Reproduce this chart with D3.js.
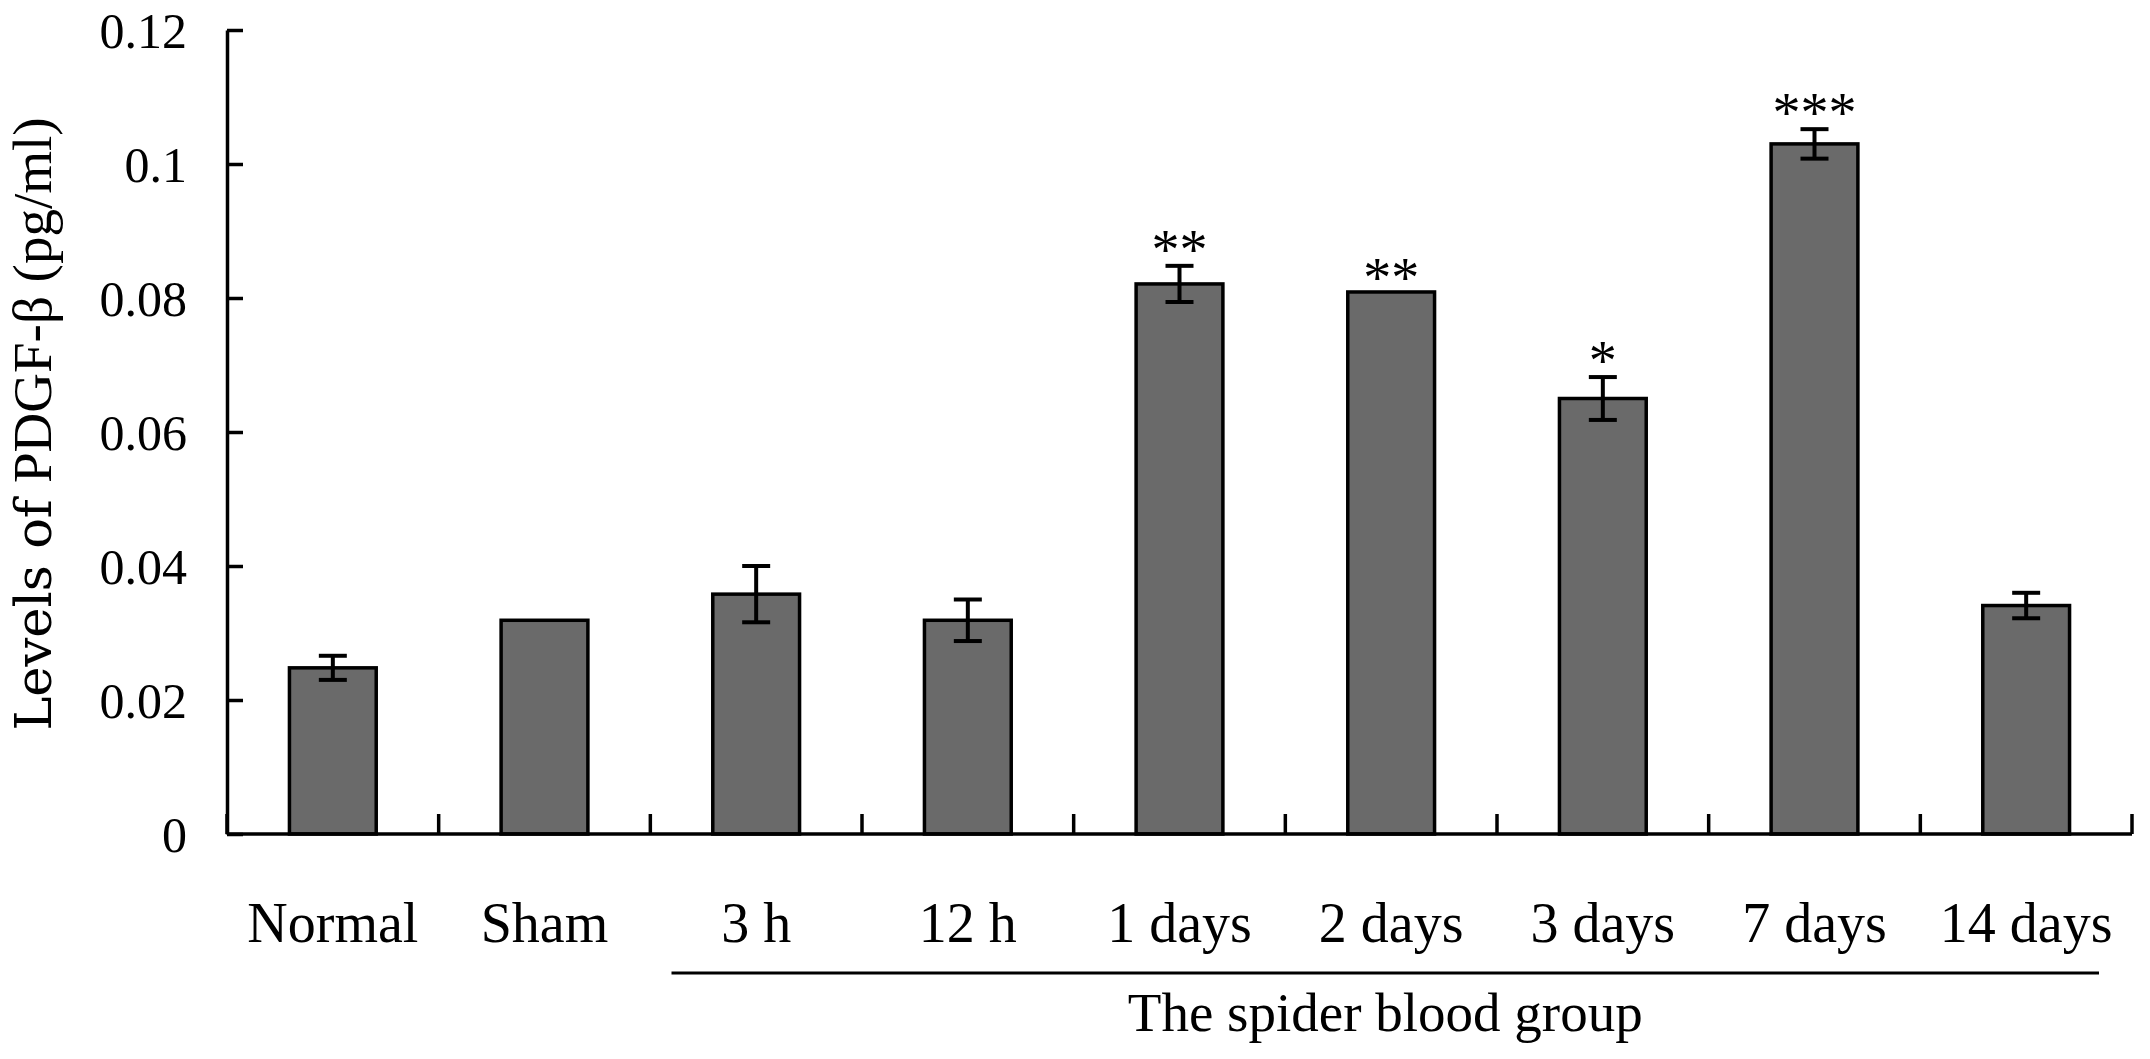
<!DOCTYPE html>
<html>
<head>
<meta charset="utf-8">
<script src="https://cdn.jsdelivr.net/npm/d3@7"></script>
<style>
  body { margin: 0; background: #fff; }
  svg text { font-family: "Liberation Serif", "Times New Roman", serif; fill: #000; }
</style>
</head>
<body>
<svg id="chart" width="2150" height="1059"></svg>
<script>
// data
var categories = ["Normal", "Sham", "3 h", "12 h", "1 days", "2 days", "3 days", "7 days", "14 days"];
var values = [0.0248, 0.0319, 0.0358, 0.0319, 0.0821, 0.0809, 0.0650, 0.1030, 0.0341];
var errors = [0.0018, 0, 0.0042, 0.0031, 0.0027, 0, 0.0032, 0.0022, 0.0019];
var stars = ["", "", "", "", "**", "**", "*", "***", ""];
var yTicks = [0, 0.02, 0.04, 0.06, 0.08, 0.1, 0.12];
var yTickLabels = ["0", "0.02", "0.04", "0.06", "0.08", "0.1", "0.12"];
var groupLabel = "The spider blood group";
var groupStart = "3 h";

var svg = d3.select("#chart");

var plotLeft = 227, plotRight = 2132, plotTop = 30, plotBottom = 834;

var x = d3.scaleBand().domain(categories).range([plotLeft, plotRight]).padding(0);
var y = d3.scaleLinear().domain([0, 0.12]).range([plotBottom, plotTop]);
var barW = x.bandwidth() * 0.41;

//bars
svg.append("g")
    .selectAll("rect")
    .data(values)
    .enter().append("rect")
    .attr("x", function(d, i) { return x(categories[i]) + x.bandwidth()/2 - barW/2; })
    .attr("y", function(d) { return y(d); })
    .attr("width", barW)
    .attr("height", function(d) { return y(0) - y(d); })
    .style("fill", "#6a6a6a")
    .style("stroke", "#000")
    .style("stroke-width", 3.5);

//error bars
var errG = svg.append("g").style("stroke", "#000").style("stroke-width", 4);
values.forEach(function(v, i) {
    if (!errors[i]) return;
    var cx = x(categories[i]) + x.bandwidth()/2;
    errG.append("line")
        .attr("x1", cx).attr("x2", cx)
        .attr("y1", y(v + errors[i])).attr("y2", y(v - errors[i]));
    [v + errors[i], v - errors[i]].forEach(function(e) {
        errG.append("line")
            .attr("x1", cx - 14).attr("x2", cx + 14)
            .attr("y1", y(e)).attr("y2", y(e));
    });
});

//significance stars
svg.append("g")
    .selectAll("text")
    .data(values)
    .enter().append("text")
    .attr("x", function(d, i) { return x(categories[i]) + x.bandwidth()/2; })
    .attr("y", function(d, i) { return y(d + errors[i]) + (errors[i] ? 3 : 5); })
    .attr("text-anchor", "middle")
    .style("font-size", "56px")
    .text(function(d, i) { return stars[i]; });

//y axis, ticks pointing inward
var yAxis = d3.axisLeft(y)
    .tickValues(yTicks)
    .tickFormat(function(d, i) { return yTickLabels[i]; })
    .tickSizeInner(-16)
    .tickSizeOuter(0)
    .tickPadding(40);

var yG = svg.append("g")
    .attr("transform", "translate(" + plotLeft + ",0)")
    .call(yAxis);
yG.select(".domain").style("stroke", "#000").style("stroke-width", 3.5);
yG.selectAll(".tick line").style("stroke", "#000").style("stroke-width", 3.5);
yG.selectAll(".tick text")
    .style("font-family", '"Liberation Serif", serif')
    .style("font-size", "50px")
    .attr("dy", "0.34em");

//x axis line and category separators
svg.append("line")
    .attr("x1", plotLeft).attr("x2", plotRight)
    .attr("y1", plotBottom).attr("y2", plotBottom)
    .style("stroke", "#000").style("stroke-width", 3.5);

var seps = categories.map(function(c) { return x(c); }).concat([plotRight]);
svg.append("g")
    .selectAll("line")
    .data(seps)
    .enter().append("line")
    .attr("x1", function(d) { return d; }).attr("x2", function(d) { return d; })
    .attr("y1", plotBottom).attr("y2", plotBottom - 20)
    .style("stroke", "#000").style("stroke-width", 3.5);

//category labels
svg.append("g")
    .selectAll("text")
    .data(categories)
    .enter().append("text")
    .attr("x", function(d) { return x(d) + x.bandwidth()/2; })
    .attr("y", 942)
    .attr("text-anchor", "middle")
    .style("font-size", "56px")
    .text(function(d) { return d; });

//group bracket
var gx1 = x(groupStart) + x.bandwidth()*0.1, gx2 = plotRight - 33;
svg.append("line")
    .attr("x1", gx1).attr("x2", gx2)
    .attr("y1", 973).attr("y2", 973)
    .style("stroke", "#000").style("stroke-width", 3);
svg.append("text")
    .attr("x", (gx1 + gx2)/2)
    .attr("y", 1031)
    .attr("text-anchor", "middle")
    .style("font-size", "55px")
    .text(groupLabel);

//y title
var yt = svg.append("text")
    .attr("transform", "translate(51," + ((plotTop + plotBottom)/2 - 8) + ") rotate(-90)")
    .attr("text-anchor", "middle")
    .style("font-size", "55px");
yt.append("tspan").style("font-family", '"DejaVu Serif", serif').style("font-size", "51px").text("Levels of ");
yt.append("tspan").text("PDGF-β (pg/ml)");
</script>
</body>
</html>
